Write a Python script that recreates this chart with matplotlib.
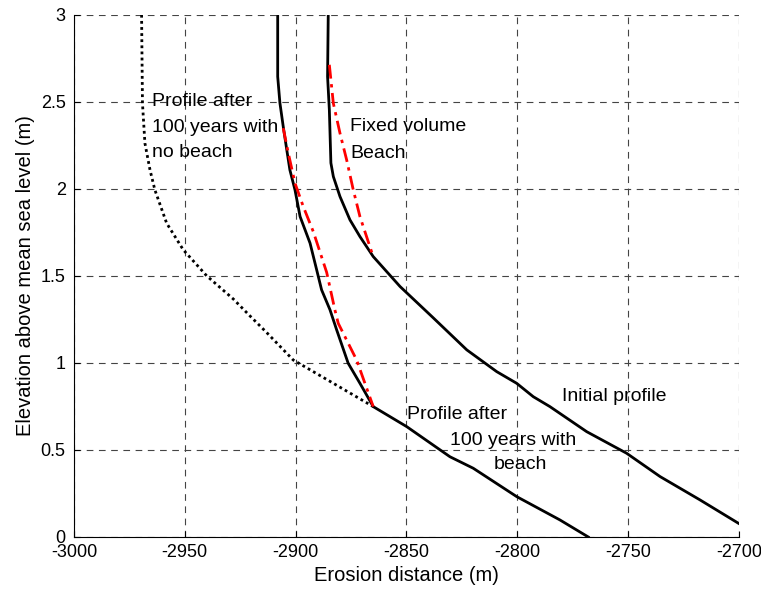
import matplotlib.pyplot as plt

plt.rcParams['font.family'] = ['Liberation Sans', 'DejaVu Sans']
plt.rcParams['axes.unicode_minus'] = False

# Initial profile
init_x = [-2885.3, -2885.6, -2884.8, -2884.1, -2883.0, -2880.0, -2875.5, -2871.0,
          -2865.0, -2852.9, -2838.0, -2822.8, -2809.3, -2800.3, -2792.8, -2785.3,
          -2768.7, -2750.7, -2735.6, -2717.6, -2700.3]
init_y = [3.0, 2.645, 2.454, 2.149, 2.071, 1.956, 1.822, 1.726,
          1.611, 1.439, 1.26, 1.075, 0.950, 0.883, 0.806, 0.749,
          0.605, 0.481, 0.347, 0.213, 0.079]

# Profile after 100 years with beach
beach_x = [-2908.1, -2908.1, -2907.1, -2905.6, -2904.0, -2902.6, -2900.3, -2898.0,
           -2893.5, -2890.5, -2888.3, -2884.5, -2881.5, -2876.3, -2871.0, -2865.0,
           -2849.9, -2830.4, -2819.9, -2800.3, -2780.8, -2768.0]
beach_y = [3.0, 2.645, 2.494, 2.358, 2.224, 2.109, 1.994, 1.841,
           1.688, 1.534, 1.420, 1.305, 1.190, 0.998, 0.883, 0.749,
           0.634, 0.461, 0.395, 0.232, 0.098, 0.0]

# Profile after 100 years with no beach
nobeach_x = [-2969.5, -2969.1, -2968.0, -2965.7, -2963.5, -2958.2, -2950.7, -2940.1,
             -2928.1, -2920.6, -2913.1, -2901.1, -2883.0, -2865.0]
nobeach_y = [3.0, 2.492, 2.263, 2.109, 1.994, 1.803, 1.650, 1.500,
             1.367, 1.270, 1.175, 1.017, 0.883, 0.749]

# Fixed volume beach (upper)
fixed_up_x = [-2884.8, -2883.0, -2880.0, -2877.0, -2874.0, -2871.0, -2865.0]
fixed_up_y = [2.713, 2.492, 2.320, 2.167, 1.994, 1.841, 1.610]

# Fixed volume beach (lower)
fixed_lo_x = [-2905.6, -2903.3, -2900.3, -2896.6, -2892.0, -2886.0, -2882.3, -2880.8,
              -2872.5, -2865.0]
fixed_lo_y = [2.349, 2.205, 2.033, 1.900, 1.753, 1.520, 1.305, 1.228,
              1.017, 0.749]

fig = plt.figure(figsize=(7.61, 5.94), dpi=100)
ax = fig.add_axes([0.0972, 0.096, 0.8739, 0.879])

ax.plot(init_x, init_y, color='black', linewidth=2)
ax.plot(beach_x, beach_y, color='black', linewidth=2)
ax.plot(nobeach_x, nobeach_y, color='black', linewidth=2, linestyle=(0, (1, 1.2)))
ax.plot(fixed_up_x, fixed_up_y, color='red', linewidth=2, linestyle=(0, (5, 2, 1.2, 2)))
ax.plot(fixed_lo_x, fixed_lo_y, color='red', linewidth=2, linestyle=(0, (5, 2, 1.2, 2)))

ax.set_xlim(-3000, -2700)
ax.set_ylim(0, 3)
ax.set_xticks(range(-3000, -2699, 50))
ax.set_yticks([0, 0.5, 1, 1.5, 2, 2.5, 3])
ax.set_yticklabels(['0', '0.5', '1', '1.5', '2', '2.5', '3'])
ax.grid(True, color='#444444', linestyle=(0, (6, 5)), linewidth=0.8)
ax.set_axisbelow(True)
for s in ['top', 'right']:
    ax.spines[s].set_visible(False)
for s in ['left', 'bottom']:
    ax.spines[s].set_linewidth(0.8)
ax.tick_params(direction='in', length=4, labelsize=13)
ax.tick_params(axis='x', pad=5)
ax.tick_params(axis='y', pad=6)

ax.set_xlabel('Erosion distance (m)', fontsize=14.5, labelpad=4)
ax.set_ylabel('Elevation above mean sea level (m)', fontsize=14.5, labelpad=4)

fs = 14
ax.text(-2964.8, 2.502, 'Profile after', fontsize=fs, va='center', ha='left')
ax.text(-2964.8, 2.351, '100 years with', fontsize=fs, va='center', ha='left')
ax.text(-2964.8, 2.207, 'no beach', fontsize=fs, va='center', ha='left')
ax.text(-2875.5, 2.358, 'Fixed volume', fontsize=fs, va='center', ha='left')
ax.text(-2875.5, 2.205, 'Beach', fontsize=fs, va='center', ha='left')
ax.text(-2780.0, 0.806, 'Initial profile', fontsize=fs, va='center', ha='left')
ax.text(-2849.9, 0.701, 'Profile after', fontsize=fs, va='center', ha='left')
ax.text(-2830.4, 0.557, '100 years with', fontsize=fs, va='center', ha='left')
ax.text(-2810.5, 0.414, 'beach', fontsize=fs, va='center', ha='left')

fig.savefig('out.png', dpi=100)
